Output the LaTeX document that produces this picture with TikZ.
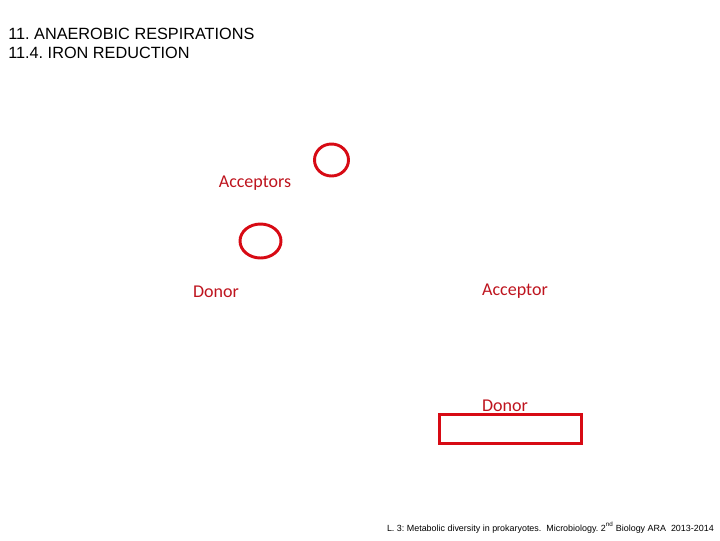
\documentclass[tikz,border=0pt]{standalone}
\usepackage{fontspec}
\setmainfont{Liberation Sans}
\newfontfamily\calib{Carlito}
\usepackage{tikz}
\definecolor{darkred}{RGB}{190,20,30}
\definecolor{ringred}{RGB}{215,10,20}
\frenchspacing

\begin{document}
\begin{tikzpicture}[x=0.75pt,y=-0.75pt]
\tikzstyle{every node}+=[inner sep=0pt]
\tikzstyle{label}=[text=darkred,font=\calib\fontsize{13.5}{15}\selectfont]
\tikzstyle{ring}=[draw=ringred,line width=2.2pt]
\useasboundingbox (0,0) rectangle (720,540);
% title
\node (t1) [anchor=base west,font=\fontsize{12.2}{14}\selectfont] at (8,39) {11. ANAEROBIC RESPIRATIONS};
\node (t2) [anchor=base west,font=\fontsize{12.2}{14}\selectfont] at (8,58) {11.4. IRON REDUCTION};
% circles
\draw [ring] (331.5,160) ellipse (17 and 16);
\draw [ring] (260.5,241) ellipse (20.5 and 17);
% labels
\node (acc1) [label] at (255,183.5) {Acceptors};
\node (don1) [label] at (216,291.5) {Donor};
\node (acc2) [label] at (515,291.5) {Acceptor};
\node (don2) [label] at (505,405.5) {Donor};
% box
\node (box) [draw=ringred,line width=2.2pt,minimum width=106.5pt,minimum height=22pt] at (510.5,429) {};
% footer
\node (foot) [anchor=base east,font=\fontsize{6.7}{8}\selectfont] at (714,531) {L. 3: Metabolic diversity in prokaryotes.\ \ Microbiology. 2\textsuperscript{nd} Biology ARA\ \ 2013-2014};
\end{tikzpicture}
\end{document}
